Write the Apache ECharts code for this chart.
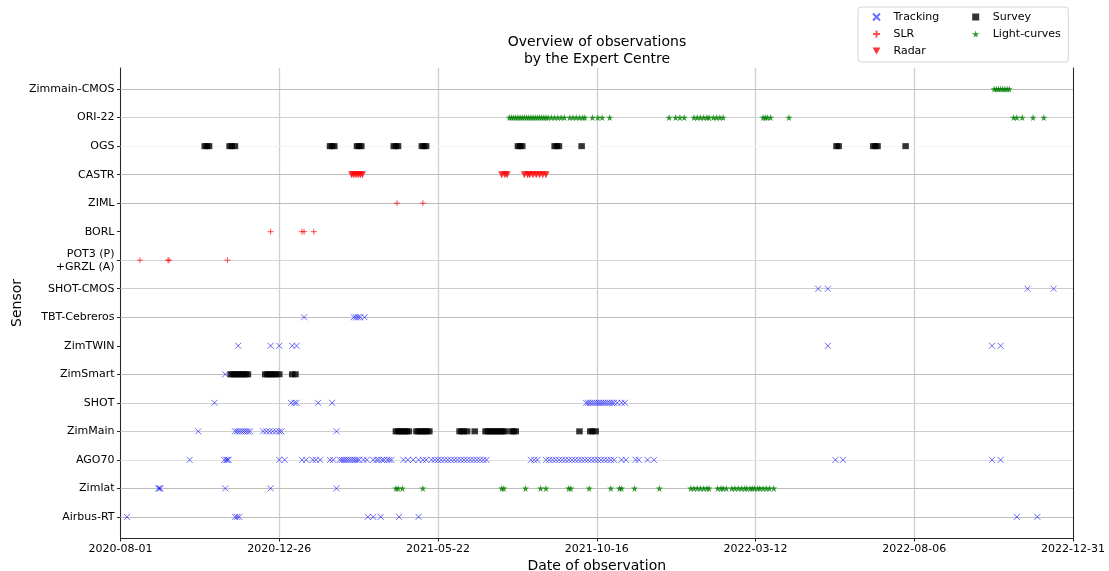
<!DOCTYPE html>
<html>
<head>
<meta charset="utf-8">
<script src="https://cdn.jsdelivr.net/npm/echarts@6/dist/echarts.min.js"></script>
<style>
  html, body { margin: 0; padding: 0; background: #fff; }
  #chart { width: 1109px; height: 571px; }
</style>
</head>
<body>
<div id="chart"></div>
<script>
// ---------------- DATA ----------------
const sensors = ['Airbus-RT', 'Zimlat', 'AGO70', 'ZimMain', 'SHOT', 'ZimSmart', 'ZimTWIN',
  'TBT-Cebreros', 'SHOT-CMOS', 'POT3 (P)\n+GRZL (A)', 'BORL', 'ZIML', 'CASTR', 'OGS', 'ORI-22', 'Zimmain-CMOS'];

const xStart = '2020-08-01';
const xEnd = '2022-12-31';
const xTickLabels = ['2020-08-01', '2020-12-26', '2021-05-22', '2021-10-16', '2022-03-12', '2022-08-06', '2022-12-31'];

const tracking = [
  ['Airbus-RT', ['2020-08-07','2020-11-15','2020-11-17','2020-11-19','2021-03-18','2021-03-23','2021-03-30','2021-04-16','2021-05-04','2022-11-09','2022-11-28']],
  ['Zimlat', ['2020-09-05','2020-09-06','2020-09-07','2020-11-06','2020-12-18','2021-02-17']],
  ['AGO70', ['2020-10-04','2020-11-05','2020-11-07','2020-11-08','2020-11-09','2020-12-26','2020-12-31','2021-01-16','2021-01-20','2021-01-26','2021-01-29','2021-02-02','2021-02-11','2021-02-14','2021-02-20','2021-02-22','2021-02-24','2021-02-26','2021-02-28','2021-03-02','2021-03-04','2021-03-06','2021-03-08','2021-03-10','2021-03-14','2021-03-17','2021-03-23','2021-03-26','2021-03-28','2021-03-31','2021-04-02','2021-04-05','2021-04-07','2021-04-09','2021-04-20','2021-04-24','2021-04-29','2021-05-04','2021-05-08','2021-05-11','2021-05-16','2021-05-19','2021-05-22','2021-05-25','2021-05-28','2021-05-31','2021-06-03','2021-06-06','2021-06-09','2021-06-12','2021-06-15','2021-06-18','2021-06-21','2021-06-24','2021-06-27','2021-06-30','2021-07-03','2021-07-06','2021-08-16','2021-08-19','2021-08-22','2021-08-30','2021-09-02','2021-09-05','2021-09-08','2021-09-11','2021-09-14','2021-09-17','2021-09-20','2021-09-23','2021-09-26','2021-09-29','2021-10-02','2021-10-05','2021-10-08','2021-10-11','2021-10-14','2021-10-17','2021-10-20','2021-10-23','2021-10-26','2021-10-29','2021-11-01','2021-11-08','2021-11-12','2021-11-21','2021-11-24','2021-12-02','2021-12-08','2022-05-25','2022-06-01','2022-10-17','2022-10-25']],
  ['ZimMain', ['2020-10-12','2020-11-15','2020-11-17','2020-11-19','2020-11-21','2020-11-23','2020-11-25','2020-11-27','2020-11-29','2020-12-11','2020-12-14','2020-12-17','2020-12-20','2020-12-23','2020-12-26','2020-12-28','2021-02-17']],
  ['SHOT', ['2020-10-27','2021-01-06','2021-01-09','2021-01-11','2021-01-31','2021-02-13','2021-10-06','2021-10-08','2021-10-10','2021-10-12','2021-10-14','2021-10-16','2021-10-18','2021-10-20','2021-10-22','2021-10-24','2021-10-26','2021-10-28','2021-10-30','2021-11-01','2021-11-04','2021-11-08','2021-11-11']],
  ['ZimSmart', ['2020-11-06']],
  ['ZimTWIN', ['2020-11-18','2020-12-18','2020-12-26','2021-01-07','2021-01-11','2022-05-18','2022-10-17','2022-10-25']],
  ['TBT-Cebreros', ['2021-01-18','2021-03-05','2021-03-07','2021-03-09','2021-03-11','2021-03-15']],
  ['SHOT-CMOS', ['2022-05-09','2022-05-18','2022-11-19','2022-12-13']]
];

const slr = [
  ['POT3 (P)\n+GRZL (A)', ['2020-08-19','2020-09-14','2020-09-15','2020-11-08']],
  ['BORL', ['2020-12-18','2021-01-16','2021-01-18','2021-01-27']],
  ['ZIML', ['2021-04-14','2021-05-08']]
];

const radar = [
  ['CASTR', ['2021-03-03','2021-03-05','2021-03-07','2021-03-09','2021-03-11','2021-03-13','2021-07-20','2021-07-23','2021-07-25','2021-08-10','2021-08-13','2021-08-15','2021-08-18','2021-08-21','2021-08-24','2021-08-27','2021-08-30']]
];

const survey = [
  ['OGS', ['2020-10-18','2020-10-20','2020-10-22','2020-11-10','2020-11-12','2020-11-15','2021-02-11','2021-02-13','2021-02-15','2021-03-08','2021-03-10','2021-03-12','2021-04-11','2021-04-13','2021-04-15','2021-05-07','2021-05-09','2021-05-11','2021-08-04','2021-08-06','2021-08-08','2021-09-07','2021-09-09','2021-09-11','2021-10-02','2022-05-26','2022-05-28','2022-06-29','2022-07-01','2022-07-03','2022-07-29']],
  ['ZimSmart', ['2020-11-11','2020-11-13','2020-11-15','2020-11-17','2020-11-19','2020-11-21','2020-11-23','2020-11-25','2020-11-27','2020-12-13','2020-12-15','2020-12-17','2020-12-19','2020-12-21','2020-12-23','2020-12-26','2021-01-07','2021-01-10']],
  ['ZimMain', ['2021-04-13','2021-04-15','2021-04-17','2021-04-19','2021-04-21','2021-04-23','2021-04-25','2021-05-02','2021-05-04','2021-05-06','2021-05-08','2021-05-10','2021-05-12','2021-05-14','2021-06-11','2021-06-13','2021-06-15','2021-06-18','2021-06-25','2021-07-05','2021-07-07','2021-07-09','2021-07-11','2021-07-13','2021-07-15','2021-07-17','2021-07-19','2021-07-21','2021-07-23','2021-07-29','2021-07-31','2021-08-02','2021-09-30','2021-10-10','2021-10-12','2021-10-15']]
];

const lightCurves = [
  ['Zimlat', ['2021-04-13','2021-04-15','2021-04-19','2021-05-08','2021-07-20','2021-07-22','2021-08-11','2021-08-25','2021-08-30','2021-09-20','2021-09-22','2021-10-09','2021-10-29','2021-11-06','2021-11-08','2021-11-20','2021-12-13','2022-01-11','2022-01-14','2022-01-17','2022-01-20','2022-01-23','2022-01-26','2022-01-28','2022-02-05','2022-02-08','2022-02-10','2022-02-13','2022-02-18','2022-02-21','2022-02-24','2022-02-27','2022-03-02','2022-03-04','2022-03-07','2022-03-09','2022-03-11','2022-03-14','2022-03-16','2022-03-19','2022-03-22','2022-03-25','2022-03-29']],
  ['ORI-22', ['2021-07-27','2021-07-29','2021-07-31','2021-08-02','2021-08-04','2021-08-06','2021-08-08','2021-08-10','2021-08-12','2021-08-14','2021-08-16','2021-08-18','2021-08-20','2021-08-22','2021-08-24','2021-08-26','2021-08-28','2021-08-30','2021-09-01','2021-09-04','2021-09-07','2021-09-10','2021-09-13','2021-09-16','2021-09-21','2021-09-24','2021-09-27','2021-09-30','2021-10-03','2021-10-05','2021-10-12','2021-10-17','2021-10-21','2021-10-28','2021-12-22','2021-12-28','2022-01-01','2022-01-05','2022-01-14','2022-01-17','2022-01-20','2022-01-23','2022-01-26','2022-01-28','2022-02-01','2022-02-04','2022-02-07','2022-02-10','2022-03-19','2022-03-21','2022-03-23','2022-03-26','2022-04-12','2022-11-06','2022-11-09','2022-11-14','2022-11-24','2022-12-04']],
  ['Zimmain-CMOS', ['2022-10-19','2022-10-21','2022-10-23','2022-10-25','2022-10-27','2022-10-29','2022-10-31','2022-11-02']]
];

// sensors whose row has a horizontal reference line (others have none)
const rowsWithLine = ['Airbus-RT','Zimlat','AGO70','ZimMain','SHOT','ZimSmart','TBT-Cebreros','SHOT-CMOS','POT3 (P)\n+GRZL (A)','ZIML','CASTR','OGS','ORI-22','Zimmain-CMOS'];

// ---------------- HELPERS ----------------
const DAY = 86400000;
function toUTC(s) { const p = s.split('-').map(Number); return Date.UTC(p[0], p[1] - 1, p[2]); }
const T0 = toUTC(xStart);
function dayOf(s) { return (toUTC(s) - T0) / DAY; }
function fmtDay(v) { return new Date(T0 + Math.round(v) * DAY).toISOString().slice(0, 10); }
function build(rows) {
  const out = [];
  rows.forEach(([name, dates]) => {
    const yi = sensors.indexOf(name);
    dates.forEach(d => out.push([dayOf(d), yi]));
  });
  return out;
}
const xMax = dayOf(xEnd);
const xInterval = dayOf(xTickLabels[1]) - dayOf(xTickLabels[0]);

// styles
const lineShade = {
  'AGO70': '#e2e2e2', 'OGS': '#f3f3f3', 'POT3 (P)\n+GRZL (A)': '#d6d6d6', 'ORI-22': '#d0d0d0',
  'SHOT': '#d0d0d0', 'ZimMain': '#cdcdcd', 'SHOT-CMOS': '#cccccc'
};
const FONT = 'DejaVu Sans';
const SYM_X = 'path://M0,0L10,10M0,10L10,0';
const SYM_PLUS = 'path://M5,0L5,10M0,5L10,5';
const SYM_STAR = 'path://M50,0L61,35L98,35L68,57L79,91L50,70L21,91L32,57L2,35L39,35Z';
const SYM_TRI = 'path://M0,0L10,0L5,9Z';
const SYM_SQ = 'path://M0,0L10,0L10,10L0,10Z';

const chart = echarts.init(document.getElementById('chart'), null, { renderer: 'canvas' });

const option = {
  animation: false,
  backgroundColor: '#fff',
  title: {
    text: 'Overview of observations\nby the Expert Centre',
    left: 597, top: 34, textAlign: 'center', padding: 0,
    textStyle: { fontFamily: FONT, fontSize: 14, fontWeight: 'normal', color: '#000', lineHeight: 17 }
  },
  legend: [
    {
      data: [{ name: 'Tracking', icon: SYM_X }, { name: 'SLR', icon: SYM_PLUS }, { name: 'Radar', icon: SYM_TRI }],
      orient: 'vertical', left: 858, top: 7,
      padding: [3, 129, 4, 14],
      itemGap: 3, itemWidth: 24, itemHeight: 7,
      borderColor: '#d4d4d4', borderWidth: 1, borderRadius: 3,
      textStyle: { fontFamily: FONT, fontSize: 11, color: '#000', lineHeight: 14 }
    },
    {
      data: [{ name: 'Survey', icon: SYM_SQ }, { name: 'Light-curves', icon: SYM_STAR }],
      orient: 'vertical', left: 972, top: 7,
      padding: [3, 0, 0, 0],
      itemGap: 3, itemWidth: 24, itemHeight: 7,
      textStyle: { fontFamily: FONT, fontSize: 11, color: '#000', lineHeight: 14 }
    }
  ],
  grid: { left: 120.5, right: 36, top: 68, bottom: 33, containLabel: false, outerBoundsMode: 'none' },
  xAxis: {
    type: 'value', min: 0, max: xMax, interval: xInterval,
    name: 'Date of observation', nameLocation: 'middle', nameGap: 21, nameMoveOverlap: false,
    nameTextStyle: { fontFamily: FONT, fontSize: 14, color: '#000' },
    axisLine: { show: true, onZero: false, lineStyle: { color: '#262626', width: 1 } },
    axisTick: { show: true, inside: false, length: 3.5, lineStyle: { color: '#262626' } },
    axisLabel: { fontFamily: FONT, fontSize: 11, color: '#000', margin: 6, formatter: v => fmtDay(v), hideOverlap: false, showMinLabel: true, showMaxLabel: true },
    splitLine: { show: true, lineStyle: { color: '#cfcfcf', width: 1.3 } }
  },
  yAxis: [
    {
      type: 'value', min: -0.74, max: 15.74,
      name: 'Sensor', nameLocation: 'middle', nameGap: 96, nameRotate: 90, nameMoveOverlap: false,
      nameTextStyle: { fontFamily: FONT, fontSize: 14, color: '#000' },
      axisLine: { show: true, onZero: false, lineStyle: { color: '#262626', width: 1 } },
      axisTick: { show: true, length: 3.5, customValues: sensors.map((s, i) => i), lineStyle: { color: '#262626' } },
      axisLabel: { fontFamily: FONT, fontSize: 11, color: '#000', margin: 6, lineHeight: 13,
        customValues: sensors.map((s, i) => i), formatter: v => sensors[Math.round(v)] || '' },
      splitLine: { show: false }
    },
    {
      type: 'value', min: -0.74, max: 15.74, position: 'right',
      axisLine: { show: true, onZero: false, lineStyle: { color: '#262626', width: 1 } },
      axisTick: { show: false }, axisLabel: { show: false }, splitLine: { show: false }
    }
  ],
  series: [
    {
      name: 'rows', type: 'line', data: [], z: 1, silent: true,
      markLine: {
        z: 1, silent: true, symbol: ['none', 'none'], label: { show: false }, animation: false,
        data: rowsWithLine.map(n => ({ yAxis: sensors.indexOf(n), lineStyle: { color: lineShade[n] || '#bdbdbd', width: 1, type: 'solid' } }))
      }
    },
    {
      name: 'Tracking', type: 'scatter', z: 3, data: build(tracking),
      symbol: SYM_X, symbolSize: 6,
      itemStyle: { color: 'rgba(0,0,255,0)', borderColor: 'rgba(0,0,255,0.72)', borderWidth: 1 }
    },
    {
      name: 'SLR', type: 'scatter', z: 3, data: build(slr),
      symbol: SYM_PLUS, symbolSize: 6,
      itemStyle: { color: 'rgba(255,0,0,0)', borderColor: 'rgba(255,0,0,0.85)', borderWidth: 1 }
    },
    {
      name: 'Radar', type: 'scatter', z: 3, data: build(radar),
      symbol: SYM_TRI, symbolSize: 7,
      itemStyle: { color: '#ff0000' }
    },
    {
      name: 'Survey', type: 'scatter', z: 4, data: build(survey),
      symbol: 'rect', symbolSize: [6.5, 6],
      itemStyle: { color: '#000000' }
    },
    {
      name: 'Light-curves', type: 'scatter', z: 3, data: build(lightCurves),
      symbol: SYM_STAR, symbolSize: 7,
      itemStyle: { color: '#008000' }
    }
  ]
};
chart.setOption(option);
</script>
</body>
</html>
